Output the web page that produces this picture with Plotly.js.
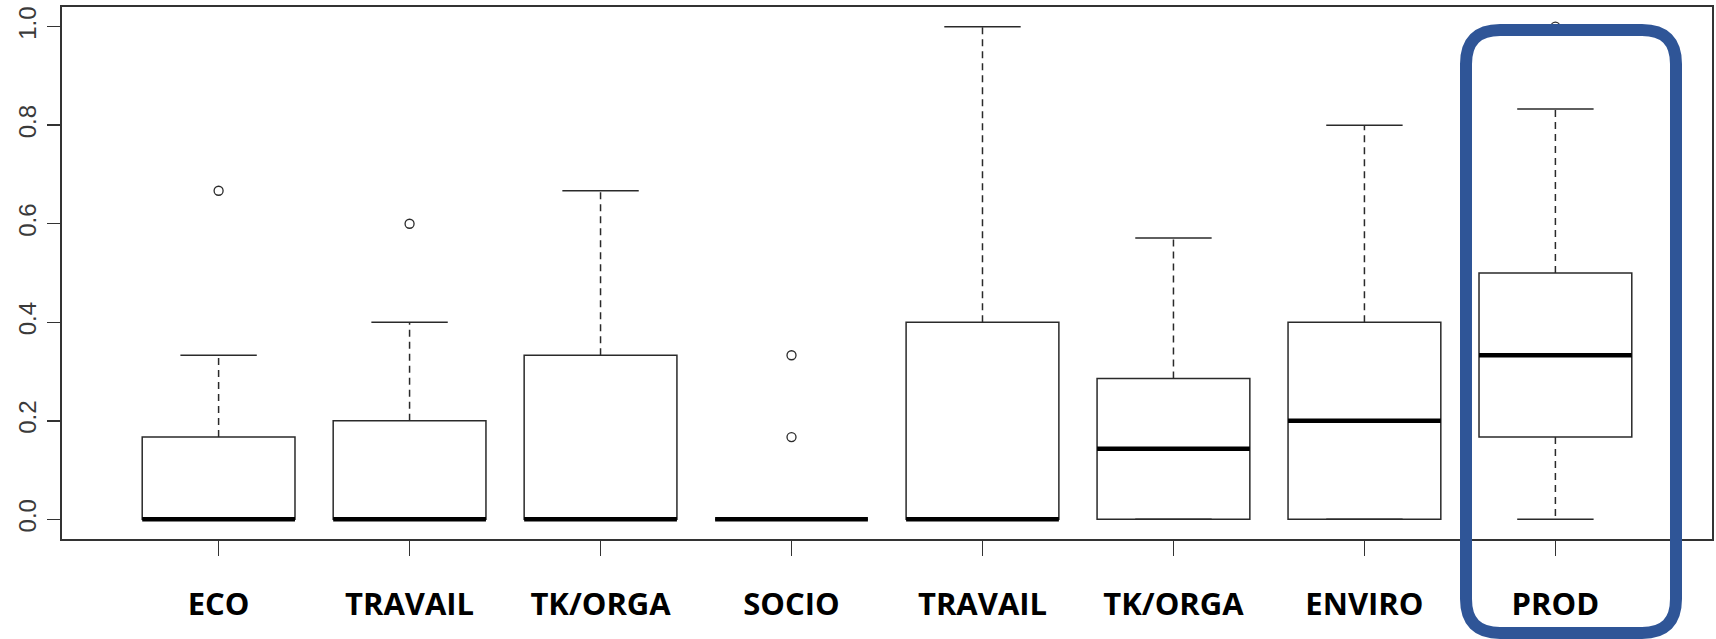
<!DOCTYPE html>
<html>
<head>
<meta charset="utf-8">
<script src="https://cdn.plot.ly/plotly-3.0.1.min.js"></script>
<style>
html,body{margin:0;padding:0;background:#fff;}
#chart{width:1716px;height:639px;}
</style>
</head>
<body>
<div id="chart"></div>
<script>
// ---- data ----
const categories = ['ECO', 'TRAVAIL', 'TK/ORGA', 'SOCIO', 'TRAVAIL', 'TK/ORGA', 'ENVIRO', 'PROD'];
const q1Values = [0, 0, 0, 0, 0, 0, 0, 0.167];
const medianValues = [0, 0, 0, 0, 0, 0.143, 0.2, 0.333];
const q3Values = [0.167, 0.2, 0.333, 0, 0.4, 0.286, 0.4, 0.5];
const lowerWhiskers = [0, 0, 0, 0, 0, 0, 0, 0];
const upperWhiskers = [0.333, 0.4, 0.667, 0, 1.0, 0.571, 0.8, 0.833];
const outlierValues = [[0.667], [0.6], [], [0.333, 0.167], [], [], [], [1.0]];
const yTickValues = [0, 0.2, 0.4, 0.6, 0.8, 1.0];

// ---- layout constants ----
const W = 1716, H = 639;
const M = {l: 62, r: 4, t: 7, b: 100};
const BOX_W = 0.8, CAP_W = BOX_W * 0.5;
const INK = '#2a2a2a';
const positions = categories.map((c, i) => i + 1);

// whiskers (dashed), caps, medians, outliers built from the arrays
const wx = [], wy = [], cx = [], cy = [], mx = [], my = [], ox = [], oy = [];
positions.forEach((p, i) => {
  if (upperWhiskers[i] > q3Values[i]) { wx.push(p, p, null); wy.push(q3Values[i], upperWhiskers[i], null); }
  if (lowerWhiskers[i] < q1Values[i]) { wx.push(p, p, null); wy.push(q1Values[i], lowerWhiskers[i], null); }
  cx.push(p - CAP_W / 2, p + CAP_W / 2, null); cy.push(upperWhiskers[i], upperWhiskers[i], null);
  cx.push(p - CAP_W / 2, p + CAP_W / 2, null); cy.push(lowerWhiskers[i], lowerWhiskers[i], null);
  mx.push(p - BOX_W / 2, p + BOX_W / 2, null); my.push(medianValues[i], medianValues[i], null);
  outlierValues[i].forEach(v => { ox.push(p); oy.push(v); });
});

const traces = [
  {
    type: 'box', x: positions, q1: q1Values, median: medianValues, q3: q3Values,
    lowerfence: q1Values, upperfence: q3Values,
    width: BOX_W, whiskerwidth: 0, boxpoints: false,
    fillcolor: '#ffffff', line: {color: INK, width: 1.5}, hoverinfo: 'skip', showlegend: false
  },
  {
    type: 'scatter', mode: 'lines', x: wx, y: wy,
    line: {color: INK, width: 1.5, dash: '7px,5px'}, hoverinfo: 'skip', showlegend: false
  },
  {
    type: 'scatter', mode: 'lines', x: cx, y: cy,
    line: {color: INK, width: 1.5}, hoverinfo: 'skip', showlegend: false
  },
  {
    type: 'scatter', mode: 'lines', x: mx, y: my,
    line: {color: '#000000', width: 4.5}, hoverinfo: 'skip', showlegend: false
  },
  {
    type: 'scatter', mode: 'markers', x: ox, y: oy,
    marker: {symbol: 'circle-open', size: 9, color: INK, line: {width: 1.3, color: INK}},
    hoverinfo: 'skip', showlegend: false
  }
];

// highlight frame around the last category (pixel geometry -> paper coords)
const plotW = W - M.l - M.r, plotH = H - M.t - M.b;
const px = v => (v - M.l) / plotW;
const py = v => (H - M.b - v) / plotH;
const fr = {L: 1466, R: 1676, T: 30, B: 633, r: 34};
const P = (x, y) => px(x).toFixed(5) + ',' + py(y).toFixed(5);
const framePath =
  'M' + P(fr.L + fr.r, fr.T) + ' L' + P(fr.R - fr.r, fr.T) +
  ' Q' + P(fr.R, fr.T) + ' ' + P(fr.R, fr.T + fr.r) +
  ' L' + P(fr.R, fr.B - fr.r) +
  ' Q' + P(fr.R, fr.B) + ' ' + P(fr.R - fr.r, fr.B) +
  ' L' + P(fr.L + fr.r, fr.B) +
  ' Q' + P(fr.L, fr.B) + ' ' + P(fr.L, fr.B - fr.r) +
  ' L' + P(fr.L, fr.T + fr.r) +
  ' Q' + P(fr.L, fr.T) + ' ' + P(fr.L + fr.r, fr.T) + ' Z';

const layout = {
  width: W, height: H,
  margin: M,
  paper_bgcolor: '#ffffff', plot_bgcolor: '#ffffff',
  showlegend: false,
  xaxis: {
    range: [0.18, 8.82], tickmode: 'array', tickvals: positions, ticktext: categories,
    ticks: 'outside', ticklen: 15, tickwidth: 1.5, tickcolor: '#333',
    showline: true, mirror: true, linecolor: '#333', linewidth: 1.8,
    showgrid: false, zeroline: false, ticklabelstandoff: 22,
    tickfont: {family: 'Open Sans', size: 31, color: '#000', weight: 700}
  },
  yaxis: {
    range: [-0.04, 1.04], tickmode: 'array', tickvals: yTickValues, tickformat: '.1f',
    tickangle: -90, ticks: 'outside', ticklen: 13, tickwidth: 1.5, tickcolor: '#333',
    showline: true, mirror: true, linecolor: '#333', linewidth: 1.8,
    showgrid: false, zeroline: false, ticklabelstandoff: 2,
    tickfont: {family: 'Liberation Sans', size: 24, color: '#3a3a3a'}
  },
  shapes: [{
    type: 'path', xref: 'paper', yref: 'paper', path: framePath,
    line: {color: '#2F5597', width: 12}, fillcolor: 'rgba(0,0,0,0)', layer: 'above'
  }]
};

Plotly.newPlot('chart', traces, layout, {displayModeBar: false, staticPlot: true});
</script>
</body>
</html>
